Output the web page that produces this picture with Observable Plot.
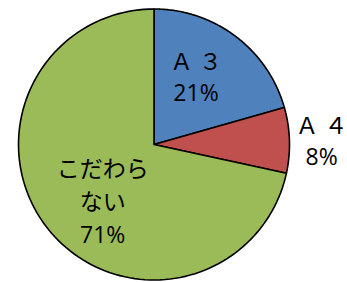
<!DOCTYPE html>
<html><head><meta charset="utf-8">
<script src="https://cdn.jsdelivr.net/npm/d3@7"></script>
<script src="https://cdn.jsdelivr.net/npm/@observablehq/plot@0.6"></script>
<style>body{margin:0;background:#fff}</style>
</head><body><div id="chart"></div>
<script>
const categories = ["Ａ ３", "Ａ ４", "こだわらない"];
const values = [20.6, 7.8, 71.6];
const labels = ["21%", "8%", "71%"];
const colors = ["#4F81BD", "#C0504D", "#9BBB59"];

const W = 347, H = 282, cx = 153.5, cy = 144, R = 135.5;
const pie = d3.pie().sort(null).value(d => d.value);
const arcs = pie(categories.map((c, i) => ({cat: c, value: values[i], label: labels[i], color: colors[i]})));

const pts = [];
arcs.forEach(a => {
  pts.push({cat: a.data.cat, x: 0, y: 0});
  const n = 120;
  for (let k = 0; k <= n; k++) {
    const t = a.startAngle + (a.endAngle - a.startAngle) * k / n;
    pts.push({cat: a.data.cat, x: Math.sin(t), y: Math.cos(t)});
  }
  pts.push({cat: a.data.cat, x: 0, y: 0});
});
const mid = a => (a.startAngle + a.endAngle) / 2;
const pos = (a, f) => ({x: f * Math.sin(mid(a)), y: f * Math.cos(mid(a))});

const font = "'Open Sans', 'Noto Sans CJK JP', sans-serif";
const a3 = arcs[0], a4 = arcs[1], g = arcs[2];
const plot = Plot.plot({
  width: W, height: H,
  margin: 0,
  x: {domain: [-cx / R, (W - cx) / R], axis: null},
  y: {domain: [-(H - cy) / R, cy / R], axis: null},
  color: {domain: categories, range: colors},
  style: {fontFamily: font, background: "#fff"},
  marks: [
    Plot.line(pts, {x: "x", y: "y", z: "cat", fill: "cat", stroke: "#000", strokeWidth: 1.6, curve: "linear"}),
    Plot.text([{...pos(a3, 0.6), t: a3.data.cat + "\n" + a3.data.label}], {x: "x", y: "y", text: "t", fontSize: 23, lineHeight: 1.35, dx: -7, dy: -4, fill: "#000"}),
    Plot.text([{...pos(a4, 1.23), t: a4.data.cat + "\n" + a4.data.label}], {x: "x", y: "y", text: "t", fontSize: 23, lineHeight: 1.35, dx: 1, dy: 0, fill: "#000"}),
    Plot.text([{...pos(g, 0.6), t: "こだわら\nない\n" + g.data.label}], {x: "x", y: "y", text: "t", fontSize: 23, lineHeight: 1.42, dx: 12, dy: 4, fill: "#000"})
  ]
});
document.getElementById("chart").appendChild(plot);
</script>
</body></html>
